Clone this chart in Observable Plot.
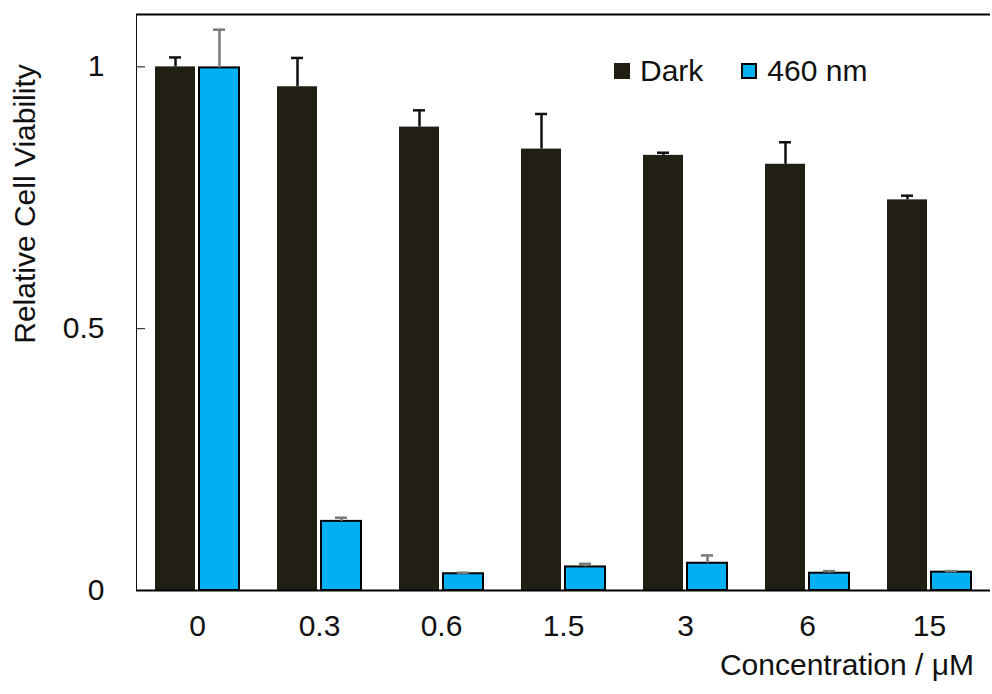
<!DOCTYPE html>
<html>
<head>
<meta charset="utf-8">
<script src="https://cdn.jsdelivr.net/npm/d3@7"></script>
<script src="https://cdn.jsdelivr.net/npm/@observablehq/plot@0.6"></script>
<style>
  html, body { margin: 0; padding: 0; background: #fff; }
  #wrap { position: relative; width: 992px; height: 694px; font-family: "Liberation Sans", Arial, sans-serif; color: #111; }
  #wrap svg text { font-size: 30px; font-family: "Liberation Sans", Arial, sans-serif; fill: #111; }
  #ylabel { position: absolute; left: 25px; top: 204px; transform: translate(-50%, -50%) rotate(-90deg); white-space: nowrap; font-size: 30px; line-height: 1; }
  #xlabel { position: absolute; right: 18px; top: 650px; white-space: nowrap; font-size: 30px; line-height: 1; }
  #legend { position: absolute; left: 614px; top: 56px; display: flex; align-items: center; font-size: 30px; line-height: 1; white-space: nowrap; }
  #legend .sw { width: 16px; height: 16px; display: inline-block; margin-right: 10px; box-sizing: border-box; }
  #legend .item { display: flex; align-items: center; margin-right: 38px; }
</style>
</head>
<body>
<div id="wrap"></div>
<script>
const concentrations = ["0", "0.3", "0.6", "1.5", "3", "6", "15"];
const seriesNames = ["Dark", "460 nm"];
const darkMean = [1.0, 0.962, 0.885, 0.843, 0.831, 0.814, 0.746];
const darkErr  = [0.018, 0.055, 0.032, 0.067, 0.005, 0.042, 0.008];
const blueMean = [0.998, 0.132, 0.032, 0.045, 0.052, 0.033, 0.035];
const blueErr  = [0.073, 0.007, 0.002, 0.006, 0.015, 0.004, 0.002];
const yTicks = [0, 0.5, 1];
const xLabel = "Concentration / \u03bcM";
const yLabel = "Relative Cell Viability";

const colors = {"Dark": "#211e13", "460 nm": "#00b0f0"};
const errColors = {"Dark": "#111111", "460 nm": "#7a7a7a"};

const data = [];
concentrations.forEach((c, i) => {
  data.push({conc: c, series: "Dark", value: darkMean[i], hi: darkMean[i] + darkErr[i]});
  data.push({conc: c, series: "460 nm", value: blueMean[i], hi: blueMean[i] + blueErr[i]});
});

const chart = Plot.plot({
  width: 992,
  height: 694,
  marginLeft: 133,
  marginRight: 0,
  marginTop: 14,
  marginBottom: 104,
  style: {fontSize: "30px", fontFamily: "'Liberation Sans', Arial, sans-serif", color: "#111", background: "#fff"},
  fx: {domain: concentrations, padding: 0, tickSize: 0, tickPadding: 24, label: null},
  x: {domain: seriesNames, paddingInner: 0.1, paddingOuter: 0.43, axis: null},
  y: {domain: [0, 1.1], ticks: yTicks, tickFormat: d => String(d), tickSize: -9, tickPadding: 41, label: null, line: true},
  color: {domain: seriesNames, range: seriesNames.map(s => colors[s])},
  marks: [
    Plot.barY(data, {fx: "conc", x: "series", y: "value", fill: "series",
      stroke: d => d.series === "460 nm" ? "#000" : "none", strokeWidth: 2}),
    Plot.ruleX(data, {fx: "conc", x: "series", y1: "value", y2: "hi", stroke: d => errColors[d.series], strokeWidth: 2.5}),
    Plot.tickY(data, {fx: "conc", x: "series", y: "hi", stroke: d => errColors[d.series], strokeWidth: 2.5, insetLeft: 14, insetRight: 14}),
    Plot.ruleY([0], {stroke: "#000", strokeWidth: 2}),
    Plot.ruleY([1.1], {stroke: "#000", strokeWidth: 2})
  ]
});

const wrap = document.getElementById("wrap");
wrap.appendChild(chart);

const yl = document.createElement("div");
yl.id = "ylabel";
yl.textContent = yLabel;
wrap.appendChild(yl);

const xl = document.createElement("div");
xl.id = "xlabel";
xl.textContent = xLabel;
wrap.appendChild(xl);

const lg = document.createElement("div");
lg.id = "legend";
seriesNames.forEach(s => {
  const it = document.createElement("div");
  it.className = "item";
  const sw = document.createElement("span");
  sw.className = "sw";
  sw.style.background = colors[s];
  if (s === "460 nm") sw.style.border = "2px solid #000";
  it.appendChild(sw);
  const t = document.createElement("span");
  t.textContent = s;
  it.appendChild(t);
  lg.appendChild(it);
});
wrap.appendChild(lg);
</script>
</body>
</html>
